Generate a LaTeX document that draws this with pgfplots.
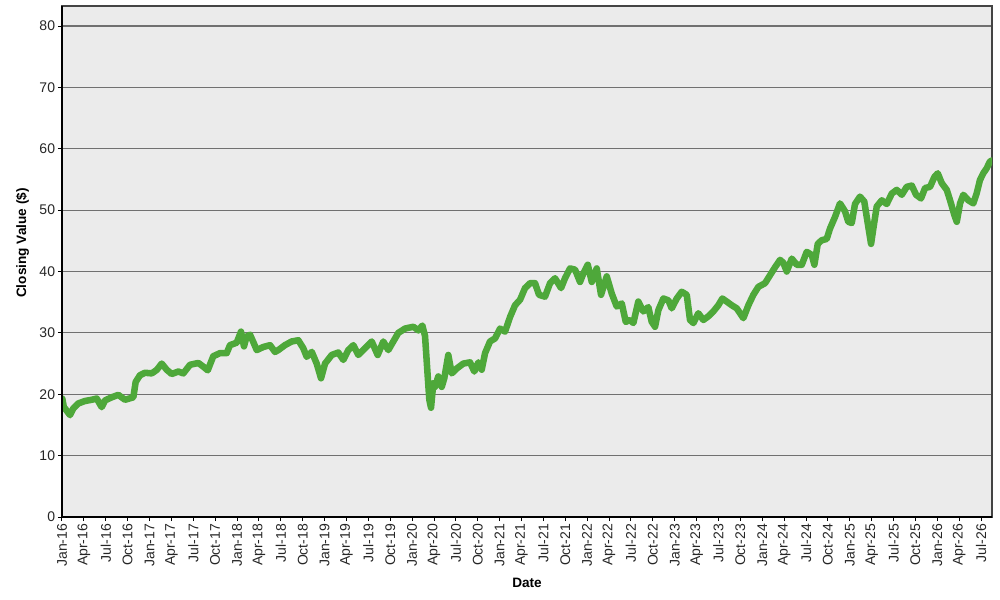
\documentclass[border=0pt]{standalone}
\usepackage{fontspec}
\setmainfont{Liberation Sans}
\usepackage{pgfplots}
\usepackage{pgfplotstable}
\pgfplotsset{compat=1.18}
\definecolor{bg}{HTML}{EBEBEB}
\definecolor{grd}{HTML}{707070}
\definecolor{lin}{HTML}{4EA83A}
\definecolor{frm}{HTML}{444444}

\pgfplotstableread{
m v
0.04 19.3
0.27 17.8
0.41 17.7
1.10 16.6
1.55 17.7
2.23 18.5
3.15 18.9
4.07 19.1
4.76 19.3
5.44 17.9
5.90 19.0
6.81 19.5
7.72 19.9
8.64 19.1
9.78 19.5
10.10 22.0
10.69 23.1
11.38 23.5
12.30 23.4
12.98 23.95
13.67 25.0
14.35 24.0
15.04 23.3
15.95 23.7
16.63 23.4
17.55 24.8
18.69 25.1
19.37 24.5
19.98 23.9
20.74 26.2
21.66 26.7
22.58 26.7
23.03 28.0
23.95 28.4
24.54 30.2
24.95 27.8
25.30 29.4
25.78 29.7
26.23 28.5
26.70 27.2
27.60 27.7
28.52 28.0
29.20 26.9
29.66 27.2
30.57 28.0
31.49 28.6
32.40 28.8
33.08 27.5
33.55 26.1
34.24 26.9
34.92 25.0
35.51 22.6
36.06 25.0
36.98 26.4
37.88 26.8
38.57 25.6
39.25 27.2
39.94 28.0
40.62 26.4
41.54 27.5
42.46 28.6
43.28 26.4
44.05 28.6
44.74 27.2
45.42 28.6
46.11 30.0
47.03 30.7
48.17 31.0
48.85 30.4
49.40 31.2
49.77 29.5
50.14 22.9
50.36 19.1
50.59 17.8
50.91 21.8
51.14 21.2
51.59 22.9
52.06 21.2
52.41 22.6
52.96 26.4
53.43 23.4
54.12 24.2
55.02 25.0
55.94 25.2
56.53 23.7
57.08 25.2
57.54 24.0
58.00 26.7
58.68 28.6
59.37 29.1
60.05 30.7
60.74 30.2
61.43 32.6
62.11 34.5
62.80 35.4
63.48 37.3
64.17 38.1
64.85 38.1
65.40 36.2
66.22 35.9
66.91 38.1
67.59 38.9
68.42 37.3
68.96 38.9
69.65 40.5
70.34 40.3
71.02 38.3
71.48 39.7
72.08 41.1
72.63 38.3
73.31 40.5
73.90 36.2
74.68 39.2
75.37 36.4
76.05 34.3
76.74 34.8
77.29 31.8
77.88 32.1
78.33 31.6
79.01 35.1
79.70 33.5
80.38 34.2
80.85 31.8
81.30 31.0
81.76 33.7
82.44 35.6
83.13 35.3
83.59 34.0
84.28 35.6
84.96 36.7
85.65 36.2
86.10 32.1
86.56 31.6
87.24 33.2
87.93 32.1
88.61 32.7
89.30 33.5
89.98 34.5
90.53 35.6
91.13 35.1
91.82 34.5
92.50 34.0
93.41 32.4
94.10 34.5
94.78 36.2
95.47 37.5
96.39 38.1
97.07 39.4
97.76 40.7
98.45 41.9
98.90 41.4
99.36 40.0
100.05 42.1
100.73 41.1
101.42 41.1
102.10 43.2
102.79 42.7
103.15 41.1
103.61 44.5
104.16 45.1
104.84 45.3
105.29 47.0
105.98 48.9
106.66 51.1
107.35 49.8
107.80 48.1
108.27 47.9
108.72 51.0
109.40 52.2
109.99 51.4
110.46 47.9
110.92 44.5
111.23 47.0
111.70 50.6
112.39 51.6
113.07 51.0
113.76 52.7
114.44 53.3
115.13 52.5
115.81 53.8
116.50 54.0
117.09 52.5
117.77 51.9
118.32 53.6
119.01 53.8
119.60 55.4
120.06 56.0
120.61 54.4
121.30 53.3
121.75 51.6
122.34 49.2
122.67 48.1
123.12 51.1
123.57 52.5
124.26 51.6
124.94 51.1
125.39 52.7
125.85 54.9
126.30 56.0
126.76 56.8
127.21 57.9
127.50 58.1
}\closing

\begin{document}
\begin{tikzpicture}
\useasboundingbox (-46.5pt,-62.25pt) rectangle (703.5pt,387.75pt);
\begin{axis}[
  name=ax,
  at={(0,0)}, anchor=south west,
  scale only axis, width=697.5pt, height=383.25pt,
  xmin=0, xmax=127.5, ymin=0, ymax=83.26,
  axis background/.style={fill=bg},
  axis line style={draw=frm, line width=0.9pt},
  ytick={0,10,...,80},
  xtick={0,3,...,126},
  xticklabels={Jan-16,Apr-16,Jul-16,Oct-16,Jan-17,Apr-17,Jul-17,Oct-17,Jan-18,Apr-18,Jul-18,Oct-18,Jan-19,Apr-19,Jul-19,Oct-19,Jan-20,Apr-20,Jul-20,Oct-20,Jan-21,Apr-21,Jul-21,Oct-21,Jan-22,Apr-22,Jul-22,Oct-22,Jan-23,Apr-23,Jul-23,Oct-23,Jan-24,Apr-24,Jul-24,Oct-24,Jan-25,Apr-25,Jul-25,Oct-25,Jan-26,Apr-26,Jul-26},
  tick pos=left, tick align=outside,
  major tick length=3pt,
  every tick/.style={black, line width=0.75pt},
  ymajorgrids, grid style={grd, line width=0.9pt},
  xticklabel style={rotate=90, anchor=east, font=\fontsize{10.5}{12}\selectfont, inner sep=2pt, text=black!85},
  yticklabel style={font=\fontsize{10.5}{12}\selectfont, inner sep=2pt, text=black!85},
  /pgf/number format/assume math mode=true,
  xlabel={Date}, ylabel={Closing Value (\$)},
  label style={font=\fontsize{10.2}{12}\selectfont\bfseries},
  xlabel style={at={(axis cs:63.75,-10.67)}, anchor=center},
  ylabel style={at={(axis cs:-5.42,44.63)}, anchor=center},
]
\addplot[lin, line width=4.9pt, line join=round, line cap=round] table[x=m, y=v] {\closing};
\end{axis}
\draw[black, line width=0.9pt] (ax.north west) -- (ax.south west) -- (ax.south east);
\end{tikzpicture}
\end{document}
